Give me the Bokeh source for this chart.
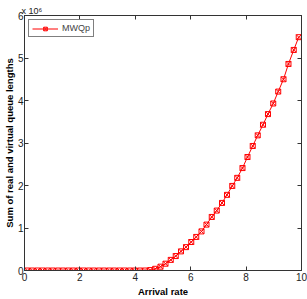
from bokeh.plotting import figure
from bokeh.models import Range1d, LinearAxis, FixedTicker
from bokeh.embed import file_html
from bokeh.resources import INLINE

arrival_rate = [0.10, 0.28, 0.47, 0.65, 0.84, 1.02, 1.21, 1.39, 1.58, 1.76,
                1.95, 2.13, 2.32, 2.50, 2.69, 2.87, 3.06, 3.24, 3.43, 3.61,
                3.80, 3.98, 4.17, 4.35, 4.54, 4.72, 4.91, 5.09, 5.28, 5.46,
                5.65, 5.83, 6.02, 6.20, 6.39, 6.57, 6.76, 6.94, 7.13, 7.31,
                7.50, 7.68, 7.87, 8.05, 8.24, 8.42, 8.61, 8.79, 8.98, 9.16,
                9.35, 9.53, 9.72, 9.90]
# values in units of 1e6
mwqp = [0, 0, 0, 0, 0, 0, 0, 0, 0, 0,
        0, 0, 0, 0, 0, 0, 0, 0, 0, 0,
        0, 0, 0, 0, 0.01, 0.04, 0.09, 0.16, 0.25, 0.34,
        0.45, 0.55, 0.67, 0.79, 0.92, 1.08, 1.26, 1.41, 1.59, 1.78,
        1.99, 2.18, 2.41, 2.67, 2.93, 3.18, 3.43, 3.68, 3.93, 4.21,
        4.50, 4.86, 5.19, 5.49]
x_ticks = [0, 2, 4, 6, 8, 10]
y_ticks = [0, 1, 2, 3, 4, 5, 6]

FONT = "Liberation Sans"
AX = "#333333"

p = figure(width=307, height=299, output_backend="svg", toolbar_location=None,
           x_range=Range1d(0, 10), y_range=Range1d(0, 6),
           min_border_left=0, min_border_right=6, min_border_top=15,
           min_border_bottom=0, title="x 10\u2076")
p.background_fill_color = "white"
p.border_fill_color = "white"
p.outline_line_color = AX
p.outline_line_width = 1
p.xgrid.visible = False
p.ygrid.visible = False

p.title.text_font = FONT
p.title.text_font_size = "9px"
p.title.text_font_style = "normal"
p.title.text_color = "#222222"
p.title.align = "left"
p.title.offset = -3
p.title.standoff = 0

def style(ax, ticks, show_labels=True):
    ax.ticker = FixedTicker(ticks=ticks)
    ax.minor_tick_line_color = None
    ax.major_tick_in = 4
    ax.major_tick_out = 0
    ax.major_tick_line_color = AX
    ax.axis_line_color = AX
    if show_labels:
        ax.major_label_text_font = FONT
        ax.major_label_text_font_size = "10px"
        ax.major_label_text_color = "#222222"
        ax.major_label_standoff = 1
    else:
        ax.major_label_overrides = {t: "" for t in ticks}
        ax.major_label_standoff = 0
        ax.major_label_text_font_size = "1px"

style(p.xaxis[0], x_ticks)
style(p.yaxis[0], y_ticks)
p.xaxis.axis_label = "Arrival rate"
p.yaxis.axis_label = "Sum of real and virtual queue lengths"
for ax in (p.xaxis[0], p.yaxis[0]):
    ax.axis_label_text_font = FONT
    ax.axis_label_text_font_style = "bold"
    ax.axis_label_text_font_size = "9.5px"
    ax.axis_label_text_color = "black"
p.xaxis[0].axis_label_standoff = 2
p.xaxis[0].major_label_standoff = 2
p.yaxis[0].axis_label_standoff = 0

top = LinearAxis()
style(top, x_ticks, show_labels=False)
p.add_layout(top, "above")
right = LinearAxis()
style(right, y_ticks, show_labels=False)
p.add_layout(right, "right")

p.line(arrival_rate, mwqp, line_color="red", line_width=1, legend_label="MWQp")
p.scatter(arrival_rate, mwqp, marker="square_x", size=5, line_color="red",
          fill_color=None, line_width=1, legend_label="MWQp")

p.legend.location = "top_left"
p.legend.border_line_color = "black"
p.legend.border_line_width = 1
p.legend.background_fill_color = "white"
p.legend.label_text_font = FONT
p.legend.label_text_font_size = "9px"
p.legend.glyph_width = 26
p.legend.glyph_height = 9
p.legend.label_standoff = 4
p.legend.padding = 3
p.legend.margin = 4
p.legend.spacing = 0

open("out.html", "w").write(file_html(p, INLINE))
